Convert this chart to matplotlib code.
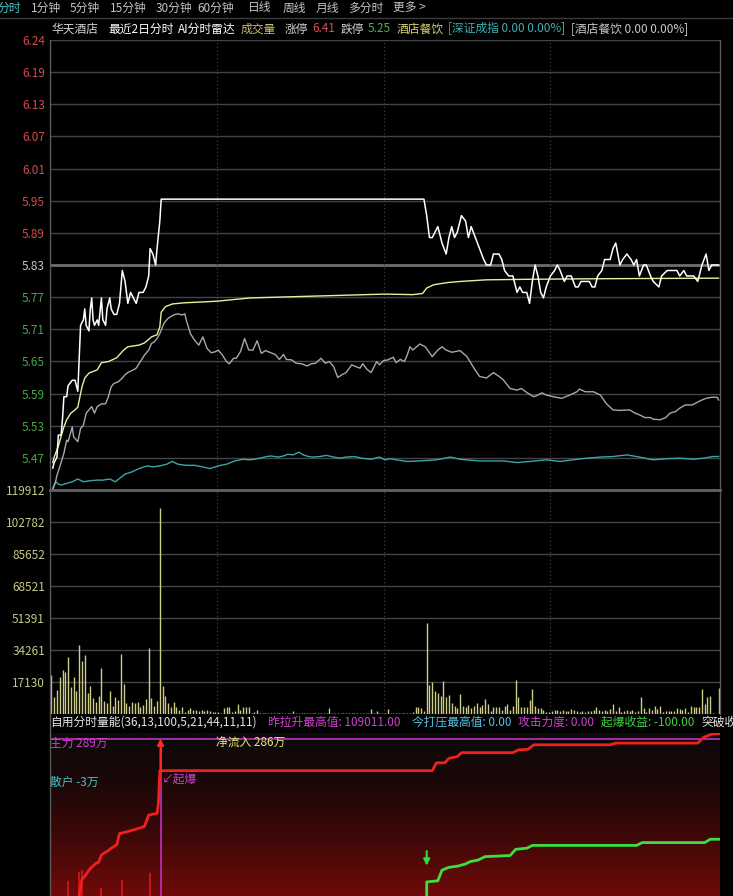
import numpy as np
import matplotlib
matplotlib.use("Agg")
import matplotlib.pyplot as plt
from matplotlib.colors import LinearSegmentedColormap
from matplotlib.lines import Line2D

plt.rcParams['font.family'] = ['Noto Sans CJK SC', 'DejaVu Sans']

W, H = 733, 896

# ---- price panel ----
prev_close = 5.83
price_top = 6.24
price_labels = ['6.24', '6.19', '6.13', '6.07', '6.01', '5.95', '5.89',
                '5.83', '5.77', '5.71', '5.65', '5.59', '5.53', '5.47']
n_minutes = 482  # two trading days

# last price (white)
white_t = [2, 3, 5, 6, 8, 9, 10, 12, 13, 16,
           18, 20, 21, 22, 24, 25, 26, 28, 29, 30,
           31, 32, 34, 35, 37, 38, 40, 41, 43, 44,
           46, 48, 50, 52, 54, 56, 58, 60, 62, 64,
           67, 69, 71, 72, 74, 76, 77, 79, 80, 269,
           271, 273, 275, 279, 282, 285, 287, 289, 291, 293,
           296, 299, 301, 303, 306, 309, 312, 314, 317, 319,
           323, 325, 327, 330, 333, 336, 338, 340, 343, 345,
           347, 349, 351, 353, 355, 357, 360, 363, 365, 367,
           370, 372, 375, 378, 380, 382, 388, 390, 392, 394,
           397, 399, 403, 405, 407, 410, 412, 415, 418, 420,
           422, 424, 427, 429, 432, 434, 438, 440, 444, 451,
           453, 456, 458, 463, 466, 469, 472, 474, 476, 481]
white_p = [5.46, 5.47, 5.48, 5.52, 5.52, 5.55, 5.59, 5.59, 5.61, 5.62,
           5.62, 5.60, 5.66, 5.72, 5.73, 5.75, 5.72, 5.71, 5.75, 5.77,
           5.73, 5.72, 5.73, 5.72, 5.77, 5.73, 5.72, 5.75, 5.77, 5.75,
           5.74, 5.74, 5.76, 5.82, 5.80, 5.76, 5.78, 5.77, 5.76, 5.78,
           5.78, 5.79, 5.81, 5.86, 5.85, 5.83, 5.86, 5.91, 5.95, 5.95,
           5.92, 5.88, 5.88, 5.90, 5.87, 5.85, 5.88, 5.90, 5.88, 5.89,
           5.92, 5.91, 5.88, 5.90, 5.88, 5.86, 5.84, 5.83, 5.83, 5.85,
           5.85, 5.84, 5.82, 5.81, 5.81, 5.78, 5.79, 5.78, 5.78, 5.76,
           5.80, 5.83, 5.81, 5.78, 5.77, 5.79, 5.81, 5.82, 5.83, 5.82,
           5.80, 5.81, 5.81, 5.79, 5.79, 5.80, 5.80, 5.79, 5.79, 5.81,
           5.82, 5.84, 5.84, 5.86, 5.87, 5.83, 5.84, 5.85, 5.84, 5.83,
           5.84, 5.81, 5.83, 5.83, 5.81, 5.80, 5.79, 5.81, 5.82, 5.82,
           5.81, 5.82, 5.81, 5.81, 5.80, 5.83, 5.85, 5.82, 5.83, 5.83]

# average price (yellow)
avg_t = [2, 3, 6, 10, 12, 15, 18, 20, 23, 25, 28, 34, 37, 42, 48, 53, 56, 64, 68, 73,
         77, 79, 80, 83, 88, 96, 120, 144, 241, 261, 268, 271, 276, 286, 295, 314, 345, 396, 481]
avg_p = [5.470, 5.480, 5.500, 5.535, 5.548, 5.560, 5.566, 5.571, 5.608, 5.624,
         5.633, 5.639, 5.652, 5.654, 5.661, 5.675, 5.681, 5.684, 5.688, 5.699,
         5.703, 5.717, 5.744, 5.754, 5.759, 5.761, 5.764, 5.770, 5.777, 5.776,
         5.778, 5.788, 5.794, 5.798, 5.800, 5.803, 5.804, 5.805, 5.806]

# sector index, scaled (grey)
sector_t = [2, 4, 5, 7, 10, 12, 13, 16, 17, 20,
            22, 24, 26, 28, 30, 32, 34, 37, 40, 42,
            44, 46, 49, 52, 54, 56, 60, 62, 65, 68,
            71, 73, 75, 77, 79, 82, 85, 89, 92, 95,
            97, 98, 101, 104, 107, 110, 113, 116, 119, 121,
            124, 127, 129, 132, 134, 137, 140, 143, 146, 149,
            152, 155, 158, 162, 165, 168, 170, 174, 177, 181,
            185, 188, 191, 195, 198, 201, 204, 207, 210, 213,
            217, 220, 223, 225, 228, 231, 235, 237, 240, 243,
            247, 249, 252, 255, 257, 259, 261, 266, 270, 275,
            279, 282, 285, 289, 295, 300, 305, 309, 314, 319,
            323, 326, 331, 336, 339, 344, 348, 351, 354, 357,
            362, 368, 374, 379, 381, 385, 391, 396, 400, 405,
            410, 417, 421, 424, 428, 432, 434, 439, 443, 446,
            450, 453, 457, 462, 465, 469, 472, 476, 480, 481]
sector_p = [5.423, 5.435, 5.447, 5.462, 5.487, 5.511, 5.508, 5.535, 5.517, 5.508,
            5.532, 5.538, 5.560, 5.566, 5.572, 5.560, 5.572, 5.577, 5.577, 5.590,
            5.608, 5.614, 5.617, 5.624, 5.630, 5.634, 5.639, 5.642, 5.654, 5.666,
            5.675, 5.687, 5.690, 5.696, 5.705, 5.724, 5.733, 5.739, 5.741, 5.739,
            5.741, 5.730, 5.705, 5.693, 5.684, 5.699, 5.678, 5.670, 5.672, 5.675,
            5.666, 5.654, 5.650, 5.660, 5.660, 5.672, 5.696, 5.675, 5.675, 5.692,
            5.669, 5.674, 5.671, 5.667, 5.658, 5.667, 5.658, 5.657, 5.651, 5.650,
            5.646, 5.650, 5.651, 5.660, 5.651, 5.654, 5.645, 5.625, 5.630, 5.634,
            5.648, 5.645, 5.642, 5.650, 5.640, 5.634, 5.654, 5.648, 5.656, 5.657,
            5.662, 5.652, 5.658, 5.654, 5.666, 5.681, 5.675, 5.686, 5.681, 5.663,
            5.675, 5.681, 5.675, 5.671, 5.674, 5.663, 5.642, 5.627, 5.624, 5.634,
            5.627, 5.621, 5.605, 5.602, 5.605, 5.596, 5.590, 5.593, 5.597, 5.593,
            5.590, 5.587, 5.593, 5.599, 5.604, 5.599, 5.599, 5.593, 5.578, 5.566,
            5.565, 5.566, 5.560, 5.557, 5.552, 5.552, 5.549, 5.548, 5.552, 5.560,
            5.563, 5.569, 5.575, 5.575, 5.579, 5.584, 5.587, 5.589, 5.589, 5.584]

# market index, scaled (cyan)
index_t = [2, 4, 6, 8, 12, 16, 20, 24, 29, 34,
           38, 43, 47, 50, 54, 59, 64, 70, 74, 79,
           84, 88, 92, 98, 104, 110, 115, 121, 127, 133,
           139, 144, 147, 151, 156, 159, 164, 168, 171, 175,
           179, 182, 186, 189, 194, 199, 204, 209, 213, 219,
           224, 231, 237, 241, 245, 249, 257, 266, 278, 288,
           295, 309, 326, 336, 345, 357, 367, 376, 386, 396,
           405, 415, 424, 434, 444, 453, 463, 470, 477, 481]
index_p = [5.420, 5.435, 5.431, 5.429, 5.432, 5.435, 5.440, 5.435, 5.437, 5.438,
           5.438, 5.440, 5.435, 5.441, 5.449, 5.453, 5.459, 5.464, 5.462, 5.464,
           5.467, 5.472, 5.467, 5.465, 5.465, 5.462, 5.459, 5.464, 5.467, 5.473,
           5.476, 5.475, 5.476, 5.478, 5.481, 5.482, 5.480, 5.482, 5.485, 5.484,
           5.489, 5.484, 5.481, 5.480, 5.481, 5.483, 5.480, 5.478, 5.480, 5.481,
           5.478, 5.476, 5.480, 5.475, 5.477, 5.475, 5.472, 5.473, 5.475, 5.480,
           5.476, 5.473, 5.473, 5.470, 5.472, 5.475, 5.472, 5.475, 5.478, 5.480,
           5.481, 5.484, 5.480, 5.475, 5.477, 5.478, 5.476, 5.478, 5.481, 5.481]

# ---- volume panel (one bar every 2 minutes) ----
vol_max = 119912
vol_labels = ['119912', '102782', '85652', '68521', '51391', '34261', '17130']
volume = [20900, 9300, 12800, 19600, 23600, 22700, 30700, 14600, 20000, 12500,
          36900, 28500, 31600, 11000, 15000, 8400, 6600, 9600, 24400, 7100,
          5700, 12500, 4300, 8900, 7500, 32100, 16000, 5700, 4300, 6600,
          5700, 6400, 3900, 4800, 7800, 35500, 8400, 4300, 7100, 110100,
          15000, 9600, 5700, 3600, 6400, 3900, 2100, 3600, 1200, 2100,
          3000, 2100, 2100, 1800, 2100, 1800, 2100, 1600, 1200, 1200,
          1200, 700, 3000, 3600, 3600, 1200, 1800, 5400, 2100, 3600,
          3900, 3600, 700, 1200, 2100, 600, 500, 700, 500, 600,
          400, 600, 500, 700, 500, 600, 500, 1600, 600, 500,
          700, 400, 600, 500, 600, 700, 500, 400, 600, 500,
          3400, 600, 500, 700, 500, 400, 600, 500, 700, 500,
          600, 400, 500, 600, 700, 2500, 600, 1600, 500, 600,
          500, 2500, 600, 500, 400, 600, 700, 500, 600, 500,
          900, 3900, 3600, 3000, 1600, 48900, 15500, 17300, 12500, 11400,
          9600, 17700, 8900, 10200, 5700, 4300, 3000, 10700, 4300, 3900,
          4600, 3000, 4300, 5700, 3600, 4800, 8000, 5400, 1800, 3900,
          3900, 3600, 2100, 4300, 5400, 2100, 4300, 18200, 8900, 3600,
          3600, 3900, 7500, 13200, 4300, 3000, 3000, 2100, 1200, 1200,
          1600, 2100, 2100, 1600, 2100, 1800, 1600, 2500, 2100, 1800,
          1200, 1800, 1200, 1800, 1600, 2100, 3600, 2100, 1800, 2100,
          1800, 2500, 5400, 1800, 3600, 1200, 1800, 2100, 1600, 2100,
          1200, 1800, 9300, 3000, 1200, 3000, 2100, 4300, 2500, 4300,
          1200, 1600, 1600, 1600, 1600, 3000, 2500, 2100, 3000, 1200,
          4300, 3600, 3600, 3900, 13400, 5400, 8900, 9600, 700, 0,
          13700]

# ---- indicator panel (万) ----
main_t = [21, 23, 25, 29, 33, 35, 37, 40, 42, 44,
          48, 50, 55, 62, 67, 68, 71, 77, 78, 79,
          275, 278, 284, 287, 293, 296, 333, 337, 344, 348,
          403, 407, 466, 470, 476, 482]
main_v = [0, 30, 35, 49, 58, 60, 73, 78, 81, 85,
          91, 111, 114, 119, 123, 124, 144, 147, 165, 223,
          223, 237, 237, 245, 248, 255, 255, 260, 261, 269,
          269, 272, 272, 282, 288, 289]
retail_t = [271, 271, 279, 282, 287, 293, 299, 302, 308, 313,
            331, 335, 343, 347, 422, 426, 471, 475, 482]
retail_v = [-5, 25, 27, 46, 51, 53, 57, 61, 64, 70,
            72, 83, 85, 90, 90, 95, 95, 101, 101]
spike_t = [13, 21, 23, 37, 52, 72]
spike_v = [27, 43, 46, 14, 28, 41]
ref_level = 279
burst_minute = 79.5
sell_minute = 271


def box(x0, y0, x1, y1):
    return [x0 / W, 1 - y1 / H, (x1 - x0) / W, (y1 - y0) / H]


def put(x, y, s, color, size=8.5, ha='left', **kw):
    fig.text(x / W, 1 - y / H, s, color=color, fontsize=size, ha=ha, va='center', **kw)


def hline_px(x0, x1, y, color, lw=1.0):
    fig.add_artist(Line2D([x0 / W, x1 / W], [1 - y / H, 1 - y / H], color=color, lw=lw))


def vline_px(x, y0, y1, color, lw=1.0):
    fig.add_artist(Line2D([x / W, x / W], [1 - y0 / H, 1 - y1 / H], color=color, lw=lw))


fig = plt.figure(figsize=(W / 100, H / 100), dpi=100, facecolor='black')

ax_p = fig.add_axes(box(50, 40, 720, 490))
ax_v = fig.add_axes(box(50, 490, 720, 714))
ax_i = fig.add_axes(box(50, 733, 720, 896))

for ax in (ax_p, ax_v, ax_i):
    ax.set_facecolor('black')
    for s in ax.spines.values():
        s.set_visible(False)
    ax.set_xlim(0, n_minutes)
    ax.set_xticks([])

# price axis
step = (price_top - prev_close) / 7
ax_p.set_ylim(prev_close - 7 * step, price_top)
ticks = [price_top - k * step for k in range(len(price_labels))]
ax_p.set_yticks(ticks, price_labels)
ax_p.tick_params(axis='y', length=0, pad=3.6, labelsize=8.5)
for lab, y in zip(ax_p.get_yticklabels(), ticks):
    if y > prev_close + 1e-6:
        lab.set_color('#d24a4a')
    elif y < prev_close - 1e-6:
        lab.set_color('#4aa54a')
    else:
        lab.set_color('#c8c8c8')
for y in ticks:
    if abs(y - prev_close) < 1e-6:
        ax_p.axhline(y, color='#6e6e6e', lw=2.0, zorder=1)
    else:
        ax_p.axhline(y, color='#444444', lw=1.0, zorder=1)

for m in (120, 240, 360):
    for ax in (ax_p, ax_v):
        ax.axvline(m, color='#3e3e3e', lw=0.9, ls=(0, (1, 2)), zorder=1)

ax_p.plot(index_t, index_p, color='#3aa6a6', lw=1.0, zorder=3)
ax_p.plot(sector_t, sector_p, color='#a8a8a8', lw=1.0, zorder=3)
ax_p.plot(avg_t, avg_p, color='#ecec9c', lw=1.0, zorder=4)
ax_p.plot(white_t, white_p, color='#ffffff', lw=1.1, zorder=5)

# volume axis
ax_v.set_ylim(0, vol_max)
vticks = [vol_max * (7 - k) / 7 for k in range(len(vol_labels))]
ax_v.set_yticks(vticks, vol_labels)
ax_v.tick_params(axis='y', length=0, pad=3.6, labelsize=8.5, labelcolor='#c8c88c')
for y in vticks[1:]:
    ax_v.axhline(y, color='#444444', lw=1.0, zorder=1)
vol_t = np.arange(len(volume)) * 2 + 1
ax_v.vlines(vol_t, 0, volume, color='#cccc88', lw=1.0, zorder=3)

# indicator panel
cmap = LinearSegmentedColormap.from_list('bg', ['#0c0a0a', '#1e0707', '#420808', '#700a0a'])
grad = np.linspace(0, 1, 200)[:, None]
ax_i.imshow(grad, extent=[0, n_minutes, 0, 290], aspect='auto', cmap=cmap,
            origin='upper', zorder=0, interpolation='bicubic')
ax_i.set_xlim(0, n_minutes)
ax_i.set_ylim(0, 290)
ax_i.set_yticks([])
ax_i.vlines(spike_t, 0, spike_v, color='#d41a1a', lw=1.2, zorder=2)
ax_i.axhline(ref_level, color='#c030c0', lw=1.2, zorder=2)
ax_i.vlines(burst_minute, 0, 268, color='#c030c0', lw=1.2, zorder=2)
ax_i.plot(main_t, main_v, color='#ee2020', lw=2.0, zorder=3)
ax_i.plot(retail_t, retail_v, color='#3ce03c', lw=2.0, zorder=3)
ax_i.annotate('', xy=(burst_minute, 280), xytext=(burst_minute, 222),
              arrowprops=dict(arrowstyle='-|>', color='#ff2a2a', lw=1.5,
                              mutation_scale=9, shrinkA=0, shrinkB=0), zorder=4)
ax_i.annotate('', xy=(sell_minute, 54), xytext=(sell_minute, 80),
              arrowprops=dict(arrowstyle='-|>', color='#30e030', lw=1.5,
                              mutation_scale=9, shrinkA=0, shrinkB=0), zorder=4)

# frame lines
vline_px(50, 40, 896, '#5a5a5a')
vline_px(719.5, 40, 714, '#5a5a5a')
hline_px(50, 720, 490, '#626262', lw=2.0)
hline_px(0, W, 18, '#3a3a3a')

# top tabs
tabs = [('分时', -3, '#46c8d2'), ('1分钟', 31, '#c4c4c4'), ('5分钟', 70, '#c4c4c4'),
        ('15分钟', 110, '#c4c4c4'), ('30分钟', 156, '#c4c4c4'), ('60分钟', 197, '#c4c4c4'),
        ('日线', 248, '#c4c4c4'), ('周线', 283, '#c4c4c4'), ('月线', 316, '#c4c4c4'),
        ('多分时', 348, '#c4c4c4'), ('更多 >', 393, '#c4c4c4')]
for s, x, c in tabs:
    put(x, 8, s, c)

# title row
title = [('华天酒店', 51, '#d4d4d4'), ('最近2日分时', 108, '#ffffff'), ('AI分时雷达', 178, '#ffffff'),
         ('成交量', 241, '#c8c070'), ('涨停', 285, '#d4d4d4'), ('6.41', 312, '#e05050'),
         ('跌停', 341, '#d4d4d4'), ('5.25', 368, '#50b050'), ('酒店餐饮', 397, '#d8d070'),
         ('[深证成指 0.00 0.00%]', 448, '#40b0b0'), ('[酒店餐饮 0.00 0.00%]', 571, '#c8c8c8')]
for s, x, c in title:
    put(x, 29, s, c)

# indicator header
header = [('自用分时量能(36,13,100,5,21,44,11,11)', 50, '#e4e4e4'),
          ('昨拉升最高值: 109011.00', 268, '#d040d0'),
          ('今打压最高值: 0.00', 412, '#58c0e0'),
          ('攻击力度: 0.00', 518, '#d040d0'),
          ('起爆收益: -100.00', 601, '#40d040'),
          ('突破收益', 701, '#e4e4e4')]
for s, x, c in header:
    put(x, 722, s, c)

put(50, 743, '主力 289万', '#d040d0')
put(216, 743, '净流入 286万', '#e8e880')
put(50, 782, '散户 -3万', '#40c4c4')
put(162, 779, '↙起爆', '#d040d0')

fig.savefig('out.png', dpi=100, facecolor='black')
